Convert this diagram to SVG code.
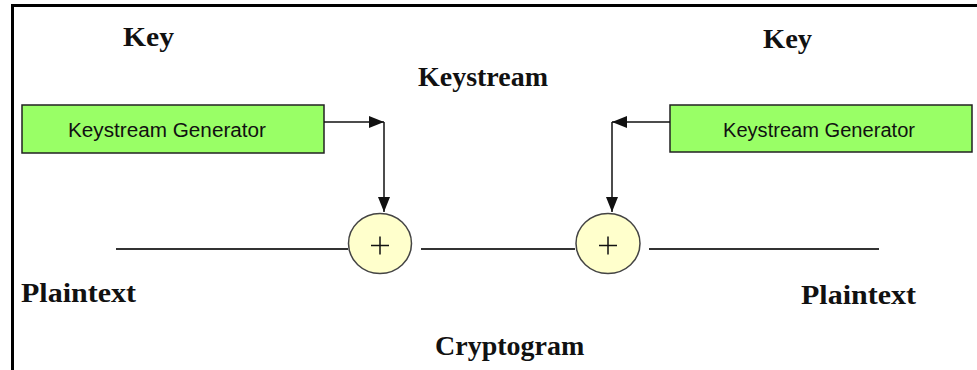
<svg xmlns="http://www.w3.org/2000/svg" width="977" height="370" viewBox="0 0 977 370">
  <style>
    .label { font-family: "Liberation Serif", "Times New Roman", serif; font-weight: bold; font-size: 28px; fill: #111; }
    .gen rect { fill: #99ff66; stroke: #222; stroke-width: 1.5; }
    .gen text { font-family: "Liberation Sans", Arial, sans-serif; font-size: 20px; fill: #111; text-anchor: middle; }
    .xor ellipse { fill: #ffffcc; stroke: #444; stroke-width: 1.5; }
    .xor path { stroke: #111; stroke-width: 1.5; fill: none; }
    .wire { stroke: #333; stroke-width: 2; fill: none; }
    .arrow { stroke: #111; stroke-width: 1.5; fill: none; marker-end: url(#head); }
  </style>
  <defs>
    <marker id="head" viewBox="0 0 15 12" refX="15" refY="6" markerWidth="15" markerHeight="12" markerUnits="userSpaceOnUse" orient="auto">
      <path d="M0,0 L15,6 L0,12 Z" fill="#111"/>
    </marker>
  </defs>

  <rect x="0" y="0" width="977" height="370" fill="#ffffff"/>
  <!-- frame: top and left edges -->
  <path d="M12.5,370 V5.5 H977" fill="none" stroke="#000" stroke-width="3"/>

  <!-- labels -->
  <text class="label" x="123" y="46" textLength="51" lengthAdjust="spacingAndGlyphs">Key</text>
  <text class="label" x="763" y="48" textLength="49" lengthAdjust="spacingAndGlyphs">Key</text>
  <text class="label" x="418" y="86" textLength="130" lengthAdjust="spacingAndGlyphs">Keystream</text>
  <text class="label" x="21" y="302" textLength="115" lengthAdjust="spacingAndGlyphs">Plaintext</text>
  <text class="label" x="801" y="304" textLength="115" lengthAdjust="spacingAndGlyphs">Plaintext</text>
  <text class="label" x="435" y="355">Cryptogram</text>

  <g id="gen-left" class="gen">
    <rect x="22" y="105" width="302" height="48"/>
    <text x="167" y="137" textLength="198" lengthAdjust="spacingAndGlyphs">Keystream Generator</text>
  </g>
  <g id="gen-right" class="gen">
    <rect x="670" y="105" width="302" height="47"/>
    <text x="819" y="137" textLength="192" lengthAdjust="spacingAndGlyphs">Keystream Generator</text>
  </g>

  <g id="xor-left" class="xor">
    <ellipse cx="380" cy="243.5" rx="31.5" ry="30"/>
    <path d="M371,245.5 H389 M380,236.5 V254.5"/>
  </g>
  <g id="xor-right" class="xor">
    <ellipse cx="608" cy="243.5" rx="32" ry="30"/>
    <path d="M599,245.5 H617 M608,236.5 V254.5"/>
  </g>

  <g id="connectors">
    <line class="wire" x1="116" y1="249" x2="348" y2="249"/>
    <line class="wire" x1="421" y1="249" x2="575" y2="249"/>
    <line class="wire" x1="649" y1="249" x2="879" y2="249"/>
    <line class="arrow" x1="324" y1="122" x2="384" y2="122"/>
    <line class="arrow" x1="384" y1="122" x2="384" y2="212"/>
    <line class="arrow" x1="670" y1="122" x2="612" y2="122"/>
    <line class="arrow" x1="612" y1="122" x2="612" y2="212"/>
  </g>
</svg>
